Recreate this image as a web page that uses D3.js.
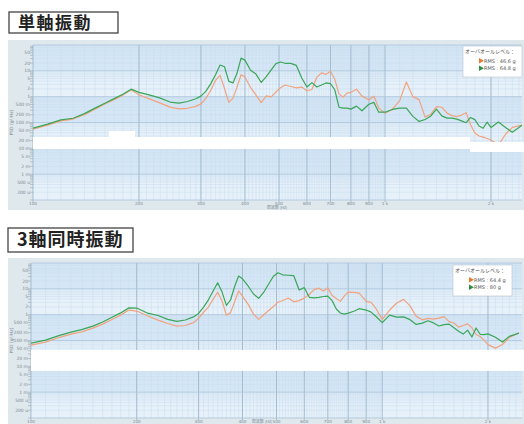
<!DOCTYPE html>
<html>
<head>
<meta charset="utf-8">
<script src="https://cdn.jsdelivr.net/npm/d3@7"></script>
<style>
body { margin: 0; background: #fff; }
svg { display: block; }
</style>
</head>
<body>
<svg width="524" height="424"></svg>
<script>
// frequency grid (Hz), shared by every curve
var freq = [100,110,120,130,140,150,160,170,180,190,200,215,230,245,260,275,290,300,310,320,
            330,340,350,360,370,380,390,400,415,430,445,460,475,490,505,520,540,560,580,600,
            620,640,660,680,700,720,740,760,780,800,830,860,900,930,960,1000,1050,1100,1150,1200,
            1250,1300,1350,1400,1450,1500,1550,1600,1650,1700,1750,1800,1850,1900,1950,2000,2100,2200,2300,2450];

// 単軸振動 PSD (g^2/Hz)
var singleOrange = [0.0555,0.079,0.116,0.136,0.20,0.33,0.516,0.77,1.15,1.8,1.18,0.805,0.56,0.395,0.336,0.355,0.42,0.52,0.87,1.77,
                    4.28,6.7,2.06,0.6,0.88,2.4,7.05,5.8,2.28,1.15,0.59,1.07,0.98,1.51,2.23,2.82,2.48,2.2,2.35,1.7,
                    1.9,5.6,8.3,7.3,9.7,4.7,1.28,0.96,1.38,1.47,1.95,1.05,0.76,1.04,0.36,0.231,0.33,0.69,3.7,1.0,
                    0.77,0.162,0.21,0.41,0.39,0.231,0.185,0.17,0.194,0.24,0.082,0.039,0.030,0.0272,0.024,0.021,0.0137,0.035,0.065,0.079];
var singleGreen = [0.061,0.086,0.127,0.146,0.22,0.36,0.56,0.84,1.25,1.95,1.47,1.15,0.88,0.62,0.565,0.65,0.83,1.05,1.65,3.2,
                   7.1,16.8,14.4,3.9,3.4,8.2,31,26,10.5,7.5,3.55,6.0,10.9,19.1,21.9,19.6,19.4,16.2,5.3,2.36,
                   3.5,2.36,2.82,3.4,3.2,1.85,0.39,0.36,0.36,0.33,0.43,0.285,0.51,0.60,0.25,0.25,0.32,0.36,0.36,0.173,
                   0.11,0.131,0.18,0.33,0.18,0.148,0.148,0.135,0.116,0.098,0.157,0.129,0.073,0.060,0.104,0.064,0.104,0.064,0.042,0.079];

// 3軸同時振動 PSD (g^2/Hz)
var triaxOrange = [0.066,0.087,0.13,0.177,0.22,0.30,0.43,0.65,0.96,1.51,1.38,0.89,0.617,0.455,0.361,0.38,0.49,0.72,1.24,1.97,
                   3.9,7.4,3.37,0.95,1.2,3.17,8.3,5.15,2.56,1.05,0.66,0.99,1.45,2.06,3.08,3.45,4.4,3.15,3.5,4.36,
                   6.15,9.3,10.6,8.3,10.9,5.5,4.2,3.27,5.36,7.4,7.3,6.87,3.25,3.0,1.7,0.66,1.51,2.82,3.9,2.2,
                   0.86,0.63,0.72,0.67,0.73,0.84,0.54,0.475,0.33,0.38,0.44,0.31,0.17,0.143,0.103,0.069,0.0507,0.07,0.13,0.194];
var triaxGreen = [0.079,0.104,0.155,0.211,0.27,0.36,0.52,0.79,1.17,1.83,1.8,1.14,0.93,0.66,0.55,0.62,0.82,1.12,1.95,3.75,
                  8.2,17.1,7.5,2.3,3.7,12.3,31.4,24.4,12.9,6.3,4.3,7.4,15.4,30.8,42,35,33.6,32.3,8.95,11.1,
                  4.7,4.45,4.7,5.06,5.26,3.5,1.65,1.16,1.05,1.15,1.36,1.7,1.51,1.26,0.85,0.49,0.96,0.805,0.82,0.64,
                  0.42,0.47,0.58,0.48,0.365,0.41,0.43,0.31,0.23,0.177,0.253,0.136,0.305,0.174,0.17,0.18,0.134,0.087,0.144,0.194];

var xTicks = [100,200,300,400,500,600,700,800,900,1000,2000];
var xTickLabels = ["100","200","300","400","500","600","700","800","900","1 k","2 k"];
var yTicks = [50,20,10,5,2,1,0.5,0.2,0.1,0.05,0.02,0.01,0.005,0.002,0.001,0.0005,0.0002];
var yTickLabels = ["50","20","10","5","2","1","500 m","200 m","100 m","50 m","20 m","10 m","5 m","2 m","1 m","500 u","200 u"];
var legendHead = "オーバオールレベル：";
var singleRms = ["RMS : 46.6 g","RMS : 64.8 g"];
var triaxRms = ["RMS : 64.4 g","RMS : 80 g"];

var orange = "#f2a27e", green = "#3aa657";

var svg = d3.select("svg");

function chart(o) {
    var g = svg.append("g");

    // title box
    g.append("rect")
        .attr("x", o.tx).attr("y", o.ty).attr("width", o.tw).attr("height", o.th)
        .attr("fill", "#fff").attr("stroke", "#444").attr("stroke-width", 1.3);
    g.append("text")
        .attr("x", o.tx + 9).attr("y", o.ty + o.th / 2)
        .attr("dy", "0.36em")
        .attr("font-family", "Noto Sans CJK JP")
        .attr("font-weight", 700).attr("font-size", o.tfs)
        .attr("letter-spacing", o.tls)
        .attr("fill", "#222")
        .text(o.title);

    // panel
    g.append("rect")
        .attr("x", 8).attr("y", o.top - 5).attr("width", 516).attr("height", o.bottom - o.top + 15)
        .attr("fill", "#dfe8ec");

    var x = d3.scaleLog().domain(o.xdom).range([o.left, 522]);
    var y = d3.scaleLog().domain([1e-4, 100]).range([o.bottom, o.top]);

    g.append("rect")
        .attr("x", o.left).attr("y", o.top).attr("width", 522 - o.left).attr("height", o.bottom - o.top)
        .attr("fill", "#e6f1fa");

    // alternating decade bands
    var decades = [1e-4, 1e-3, 1e-2, 1e-1, 1, 10];
    g.selectAll(".band").data(decades).enter().append("rect")
        .attr("x", o.left).attr("width", 522 - o.left)
        .attr("y", function(d) { return y(d * 10); })
        .attr("height", function(d) { return y(d) - y(d * 10); })
        .attr("fill", function(d, i) { return i % 2 ? "#d5e7f6" : "#e6f1fa"; });

    // minor grid
    var vMinor = d3.range(110, 1000, 10).concat(d3.range(1100, 2500, 100));
    g.append("g").selectAll("line").data(vMinor).enter().append("line")
        .attr("x1", x).attr("x2", x).attr("y1", o.top).attr("y2", o.bottom)
        .attr("stroke", "#c8dcef").attr("stroke-width", 0.5);
    var hMinor = [];
    decades.forEach(function(d) { for (var k = 2; k < 10; k++) hMinor.push(d * k); });
    g.append("g").selectAll("line").data(hMinor).enter().append("line")
        .attr("x1", o.left).attr("x2", 522).attr("y1", y).attr("y2", y)
        .attr("stroke", "#c8dcef").attr("stroke-width", 0.5);

    // major grid
    g.append("g").selectAll("line").data(xTicks).enter().append("line")
        .attr("x1", x).attr("x2", x).attr("y1", o.top).attr("y2", o.bottom + 2)
        .attr("stroke", "#8eaac2").attr("stroke-width", 0.7);
    g.append("g").selectAll("line").data(decades.concat([100])).enter().append("line")
        .attr("x1", o.left).attr("x2", 522).attr("y1", y).attr("y2", y)
        .attr("stroke", "#a9c3da").attr("stroke-width", 0.8);

    // y axis ticks + labels
    g.append("g").selectAll("line").data(hMinor.concat(decades)).enter().append("line")
        .attr("x1", o.left - 3).attr("x2", o.left).attr("y1", y).attr("y2", y)
        .attr("stroke", "#8d9ba6").attr("stroke-width", 0.5);
    g.append("g").selectAll("text").data(yTicks).enter().append("text")
        .attr("x", o.left - 3).attr("y", y).attr("dy", "0.35em")
        .attr("text-anchor", "end")
        .attr("font-family", "DejaVu Sans").attr("font-size", 4.5).attr("fill", "#7c8a95")
        .text(function(d, i) { return yTickLabels[i]; });
    g.append("text")
        .attr("transform", "translate(13," + ((o.top + o.bottom) / 2) + ") rotate(-90)")
        .attr("text-anchor", "middle")
        .attr("font-family", "DejaVu Sans").attr("font-size", 4.5).attr("fill", "#7c8a95")
        .text("PSD (g²/Hz)");

    // x labels
    g.append("g").selectAll("text").data(xTicks).enter().append("text")
        .attr("x", x).attr("y", o.bottom + 3.2).attr("dy", "0.35em")
        .attr("text-anchor", "middle")
        .attr("font-family", "DejaVu Sans").attr("font-size", 4.2).attr("fill", "#7c8a95")
        .text(function(d, i) { return xTickLabels[i]; });
    g.append("text")
        .attr("x", o.atx).attr("y", o.bottom + o.aty).attr("dy", "0.35em")
        .attr("text-anchor", "middle")
        .attr("font-family", "Noto Sans CJK JP").attr("font-size", 4).attr("fill", "#7c8a95")
        .text("周波数 (Hz)");

    // curves
    var clipId = "clip" + o.title.length;
    svg.append("clipPath").attr("id", clipId).append("rect")
        .attr("x", o.left).attr("y", o.top).attr("width", 522 - o.left).attr("height", o.bottom - o.top);
    var line = d3.line()
        .x(function(d) { return x(d[0]); })
        .y(function(d) { return y(d[1]); });
    [[o.orange, orange], [o.green, green]].forEach(function(s) {
        g.append("path")
            .datum(freq.map(function(f, i) { return [f, s[0][i]]; }))
            .attr("clip-path", "url(#" + clipId + ")")
            .attr("fill", "none").attr("stroke", s[1]).attr("stroke-width", 1.2)
            .attr("stroke-linejoin", "round")
            .attr("d", line);
    });

    // whited-out strips
    o.blanks.forEach(function(b) {
        g.append("rect").attr("x", b[0]).attr("y", b[1]).attr("width", b[2]).attr("height", b[3]).attr("fill", "#fff");
    });

    // legend
    var lg = g.append("g").attr("transform", "translate(" + o.lx + "," + o.ly + ")");
    lg.append("rect").attr("width", o.lw).attr("height", 31)
        .attr("fill", "#fff").attr("stroke", "#b9c4cc").attr("stroke-width", 0.6);
    lg.append("text").attr("x", 2).attr("y", 7)
        .attr("font-family", "Noto Sans CJK JP").attr("font-size", 5).attr("fill", "#555")
        .text(legendHead);
    [[orange, "#e8792f"], [green, "#2f8f45"]].forEach(function(c, i) {
        var yy = 15 + i * 7.5;
        lg.append("path")
            .attr("d", "M" + (o.lw - 43) + "," + (yy - 3) + "l5,2.8l-5,2.8z")
            .attr("fill", c[1]);
        lg.append("text").attr("x", o.lw - 38).attr("y", yy + 1.8)
            .attr("font-family", "DejaVu Sans").attr("font-size", 5).attr("fill", "#555")
            .text(o.rms[i]);
    });
}

chart({
    title: "単軸振動", tx: 9, ty: 12, tw: 109, th: 21, tfs: 17, tls: 1.5,
    left: 33, top: 45, bottom: 200, xdom: [100, 2450], atx: 277, aty: 8,
    orange: singleOrange, green: singleGreen, rms: singleRms,
    lx: 463, ly: 46, lw: 59,
    blanks: [[33, 137, 437, 12], [470, 142, 54, 10], [109, 131, 26, 7]]
});

chart({
    title: "3軸同時振動", tx: 8, ty: 228, tw: 125, th: 24, tfs: 18, tls: 1,
    left: 31, top: 263, bottom: 418, xdom: [100, 2500], atx: 262, aty: 3.2,
    orange: triaxOrange, green: triaxGreen, rms: triaxRms,
    lx: 453, ly: 265, lw: 59,
    blanks: [[31, 350, 493, 21]]
});
</script>
</body>
</html>
